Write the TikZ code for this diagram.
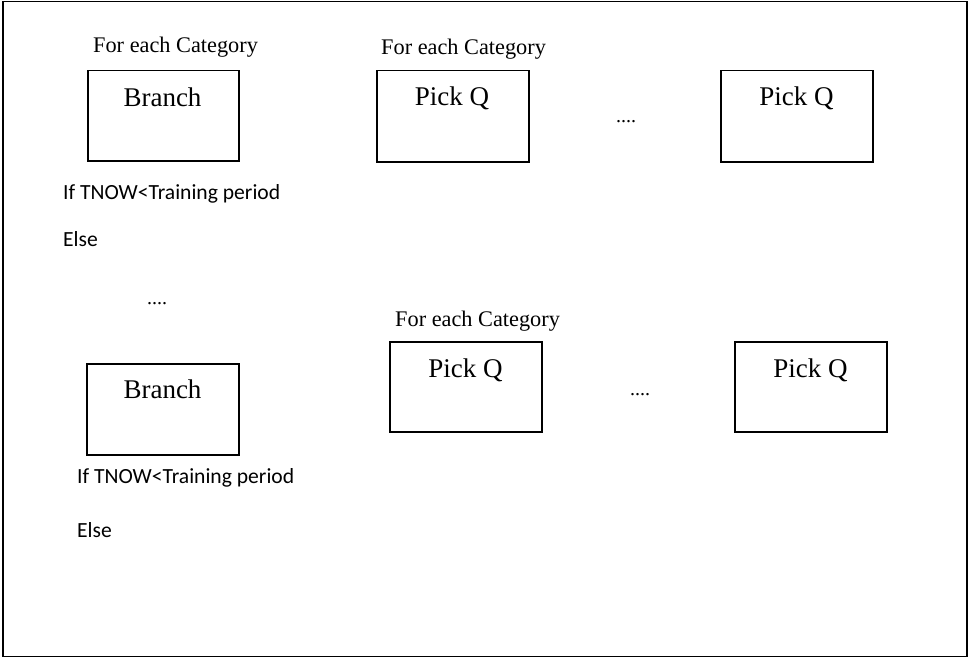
\documentclass[tikz,border=0pt]{standalone}
\usepackage{fontspec}
\setmainfont{Liberation Serif}
\newfontfamily\calibrifont{Carlito}
\begin{document}
\begin{tikzpicture}[x=1pt,y=-1pt,
  frame/.style={draw=black,line width=1.6pt},
  blockbox/.style={draw=black,line width=1.5pt,anchor=north west,inner sep=0pt},
  blocktext/.style={anchor=base,inner sep=0pt,font=\fontsize{27}{32}\selectfont},
  caption/.style={anchor=base west,inner sep=0pt,font=\fontsize{22.3}{26}\selectfont},
  condition/.style={anchor=base west,inner sep=0pt,font=\calibrifont\fontsize{21.6}{26}\selectfont},
  ellipsis/.style={anchor=base west,inner sep=0pt,font=\fontsize{20}{24}\selectfont}]
\useasboundingbox (0,0) rectangle (969,658);
\draw[frame] (3,1.5) rectangle (967,656.5);

% upper row
\node[caption] (cat1) at (93,53) {For each Category};
\node[blockbox,minimum width=151pt,minimum height=90pt] (branch1) at (87,70) {};
\node[blocktext] (branch1t) at (162.5,107) {Branch};
\node[condition] (if1) at (63,199) {If TNOW<Training period};
\node[condition] (else1) at (63,246) {Else};

\node[caption] (cat2) at (381,55) {For each Category};
\node[blockbox,minimum width=152pt,minimum height=91pt] (pick1) at (376,70) {};
\node[blocktext] (pick1t) at (452,106) {Pick Q};
\node[ellipsis] (dots1) at (616,123) {....};
\node[blockbox,minimum width=152pt,minimum height=91pt] (pick2) at (720,70) {};
\node[blocktext] (pick2t) at (796.5,106) {Pick Q};

\node[ellipsis] (dots0) at (147,304) {....};

% lower row
\node[blockbox,minimum width=152pt,minimum height=91pt] (branch2) at (86,363) {};
\node[blocktext] (branch2t) at (162.5,398) {Branch};
\node[condition] (if2) at (77,483) {If TNOW<Training period};
\node[condition] (else2) at (77,537) {Else};

\node[caption] (cat3) at (395,326) {For each Category};
\node[blockbox,minimum width=152pt,minimum height=90pt] (pick3) at (389,341) {};
\node[blocktext] (pick3t) at (465.5,377) {Pick Q};
\node[ellipsis] (dots2) at (630,395) {....};
\node[blockbox,minimum width=152pt,minimum height=90pt] (pick4) at (734,341) {};
\node[blocktext] (pick4t) at (810.5,377) {Pick Q};
\end{tikzpicture}
\end{document}
